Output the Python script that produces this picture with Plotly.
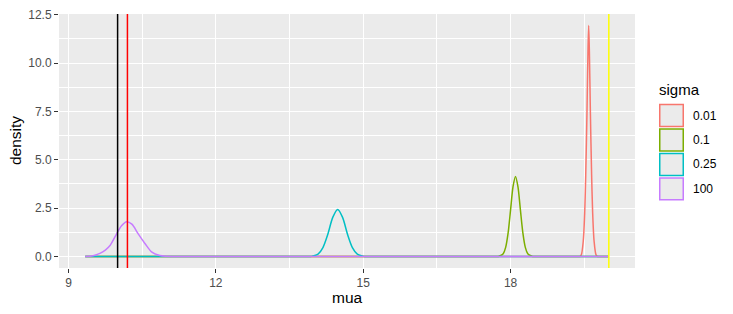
import plotly.graph_objects as go

# ---------------- data ----------------
sigma_labels = ["0.01", "0.1", "0.25", "100"]
sigma_colors = ["#F8766D", "#7CAE00", "#00BFC4", "#C77CFF"]

# density curves (mua, density)
red_x = [9.34, 9.4, 19.35, 19.41, 19.44, 19.48, 19.51, 19.53, 19.555, 19.575, 19.59,
         19.605, 19.625, 19.65, 19.67, 19.70, 19.74, 19.77, 19.83, 19.94, 20.0]
red_y = [0, 0, 0, 0, 0.08, 0.8, 2.33, 4.2, 7.4, 10.5, 11.94,
         10.5, 7.4, 4.2, 2.33, 0.8, 0.08, 0, 0, 0, 0]

green_x = [9.34, 9.4, 17.68, 17.75, 17.8, 17.85, 17.9, 17.95, 18.0, 18.05, 18.1,
           18.15, 18.2, 18.25, 18.3, 18.35, 18.4, 18.45, 18.52, 19.94, 20.0]
green_y = [0, 0, 0, 0, 0.05, 0.14, 0.47, 1.22, 2.41, 3.61, 4.14,
           3.61, 2.41, 1.22, 0.47, 0.14, 0.05, 0, 0, 0, 0]

teal_x = [9.34, 9.4, 13.86, 13.93, 13.98, 14.08, 14.18, 14.28, 14.38, 14.48,
          14.58, 14.68, 14.78, 14.88, 14.98, 15.03, 15.1, 19.94, 20.0]
teal_y = [0, 0, 0, 0, 0.03, 0.12, 0.46, 1.15, 2.02, 2.43,
          2.02, 1.15, 0.46, 0.12, 0.03, 0, 0, 0, 0]

purple_x = [9.34, 9.5, 9.64, 9.75, 9.85, 9.98, 10.08, 10.185, 10.29,
            10.42, 10.56, 10.69, 10.86, 11.0, 11.1, 11.2, 19.94, 20.0]
purple_y = [0, 0.04, 0.16, 0.33, 0.58, 1.17, 1.59, 1.80, 1.67,
            1.17, 0.66, 0.24, 0.05, 0.01, 0, 0, 0, 0]

curves_x = [red_x, green_x, teal_x, purple_x]
curves_y = [red_y, green_y, teal_y, purple_y]

# reference lines
vline_x = [10.0, 10.2, 20.0]
vline_colors = ["#000000", "#FF0000", "#FFFF00"]

x_ticks = [9, 12, 15, 18]
x_minor = [10.5, 13.5, 16.5, 19.5]
y_ticks = [0, 2.5, 5, 7.5, 10, 12.5]
y_tick_text = ["0.0", "2.5", "5.0", "7.5", "10.0", "12.5"]
y_minor = [1.25, 3.75, 6.25, 8.75, 11.25]

# ---------------- figure ----------------
W, H = 733, 314
L, R, T, B = 59, 98, 8, 46
pw, ph = W - L - R, H - T - B

def px2paper_x(px):
    return (px - L) / pw

def px2paper_y(py):
    return (H - B - py) / ph

FONT = "Liberation Sans, Arial, Helvetica, sans-serif"

fig = go.Figure()
for xs, ys, c, name in zip(curves_x, curves_y, sigma_colors, sigma_labels):
    fig.add_trace(go.Scatter(
        x=xs, y=ys, mode="lines", name=name, showlegend=False,
        line=dict(color=c, width=1.5, shape="spline", smoothing=0.8),
        hoverinfo="skip",
    ))

shapes = []
for xv, c in zip(vline_x, vline_colors):
    shapes.append(dict(type="line", xref="x", yref="paper", x0=xv, x1=xv,
                       y0=0, y1=1, line=dict(color=c, width=1.5), layer="above"))

annotations = []
# legend (manual, ggplot-style keys)
annotations.append(dict(text="sigma", xref="paper", yref="paper",
                        x=px2paper_x(657), y=px2paper_y(85), xanchor="left",
                        yanchor="middle", showarrow=False,
                        font=dict(family=FONT, size=15, color="#000000")))
key_top = 100
for i, (lab, c) in enumerate(zip(sigma_labels, sigma_colors)):
    y0 = key_top + i * 25
    shapes.append(dict(type="rect", xref="paper", yref="paper",
                       x0=px2paper_x(659.75), x1=px2paper_x(683.25),
                       y0=px2paper_y(y0 + 23.25), y1=px2paper_y(y0 + 0.75),
                       line=dict(color=c, width=1.5), fillcolor="#EBEBEB",
                       layer="above"))
    annotations.append(dict(text=lab, xref="paper", yref="paper",
                            x=px2paper_x(691), y=px2paper_y(y0 + 12),
                            xanchor="left", yanchor="middle", showarrow=False,
                            font=dict(family=FONT, size=12, color="#000000")))

# axis titles
annotations.append(dict(text="mua", xref="paper", yref="paper",
                        x=0.5, y=px2paper_y(298), xanchor="center",
                        yanchor="middle", showarrow=False,
                        font=dict(family=FONT, size=15.5, color="#000000")))
annotations.append(dict(text="density", xref="paper", yref="paper",
                        x=px2paper_x(15), y=0.5, xanchor="center",
                        yanchor="middle", showarrow=False, textangle=-90,
                        font=dict(family=FONT, size=15.5, color="#000000")))

fig.update_layout(
    width=W, height=H,
    margin=dict(l=L, r=R, t=T, b=B, pad=0),
    paper_bgcolor="#FFFFFF",
    plot_bgcolor="#EBEBEB",
    showlegend=False,
    shapes=shapes,
    annotations=annotations,
    font=dict(family=FONT, size=12, color="#4D4D4D"),
)

fig.update_xaxes(
    range=[8.807, 20.533], tickvals=x_ticks, ticktext=[str(v) for v in x_ticks],
    showgrid=True, gridcolor="#FFFFFF", gridwidth=1.1, zeroline=False,
    ticks="outside", ticklen=4, tickwidth=1, tickcolor="#333333",
    tickfont=dict(family=FONT, size=12, color="#4D4D4D"),
    minor=dict(tickvals=x_minor, showgrid=True, gridcolor="#FFFFFF",
               gridwidth=0.55, ticks=""),
    showline=False, fixedrange=True,
)
fig.update_yaxes(
    range=[-0.597, 12.54], tickvals=y_ticks, ticktext=y_tick_text,
    showgrid=True, gridcolor="#FFFFFF", gridwidth=1.1, zeroline=False,
    ticks="outside", ticklen=4, tickwidth=1, tickcolor="#333333",
    tickfont=dict(family=FONT, size=12, color="#4D4D4D"),
    minor=dict(tickvals=y_minor, showgrid=True, gridcolor="#FFFFFF",
               gridwidth=0.55, ticks=""),
    showline=False, fixedrange=True,
)

fig.write_html("out.html")
